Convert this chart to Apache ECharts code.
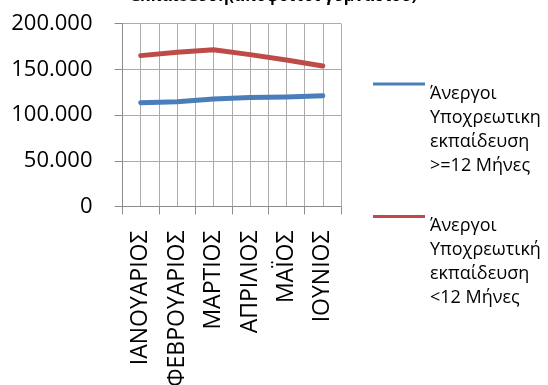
<!DOCTYPE html>
<html>
<head>
<meta charset="utf-8">
<script src="https://cdn.jsdelivr.net/npm/echarts@6/dist/echarts.min.js"></script>
<style>
html,body{margin:0;padding:0;background:#fff;}
#chart{width:548px;height:385px;}
</style>
</head>
<body>
<div id="chart"></div>
<script>
const categories = ['ΙΑΝΟΥΑΡΙΟΣ', 'ΦΕΒΡΟΥΑΡΙΟΣ', 'ΜΑΡΤΙΟΣ', 'ΑΠΡΙΛΙΟΣ', 'ΜΑΪΟΣ', 'ΙΟΥΝΙΟΣ'];
const seriesLongName = 'Άνεργοι\nΥποχρεωτικη\nεκπαίδευση\n>=12 Μήνες';
const seriesShortName = 'Άνεργοι\nΥποχρεωτική\nεκπαίδευση\n<12 Μήνες';
const longTermValues = [113500, 114600, 117500, 119000, 119700, 121100];
const shortTermValues = [164900, 168600, 171400, 166000, 160200, 153600];
const yTickLabels = ['0', '50.000', '100.000', '150.000', '200.000'];
const titleText = 'Άνεργοι Υποχρεωτική\nεκπαίδευση(απόφοιτοι γυμνασίου)';

const FONT = '"Open Sans", "Noto Sans", sans-serif';
const BLUE = '#4A7EBB';
const RED = '#BE4B48';
const GRID_COLOR = '#ABABAB';
const AXIS_COLOR = '#8C8C8C';
const legendIcon = 'path://M0 0 L0 0 M0 1 L52 1 L52 4 L0 4 Z M0 96 L0 96';

const chart = echarts.init(document.getElementById('chart'), null, {renderer: 'canvas'});
chart.setOption({
  animation: false,
  backgroundColor: '#ffffff',
  title: {
    text: titleText,
    left: 'center',
    top: -37,
    padding: 0,
    textStyle: {fontFamily: FONT, fontSize: 16, fontWeight: 'bold', color: '#000', lineHeight: 22}
  },
  grid: {left: 122.5, top: 23.5, width: 218.5, height: 183, containLabel: false, outerBoundsMode: 'none'},
  legend: [
    {
      data: [seriesLongName], left: 373, top: 81.5, padding: 0, orient: 'vertical',
      itemWidth: 52, itemHeight: 96, itemGap: 5, icon: legendIcon,
      itemStyle: {color: BLUE, borderWidth: 0},
      textStyle: {fontFamily: FONT, fontSize: 18, lineHeight: 24, color: '#000'}
    },
    {
      data: [seriesShortName], left: 373, top: 214, padding: 0, orient: 'vertical',
      itemWidth: 52, itemHeight: 96, itemGap: 5, icon: legendIcon,
      itemStyle: {color: RED, borderWidth: 0},
      textStyle: {fontFamily: FONT, fontSize: 18, lineHeight: 24, color: '#000'}
    }
  ],
  xAxis: [
    {
      type: 'value',
      min: 0,
      max: categories.length * 2,
      interval: 1,
      position: 'bottom',
      axisLine: {show: false},
      axisTick: {show: false},
      axisLabel: {show: false},
      splitLine: {show: true, lineStyle: {color: GRID_COLOR, width: 1}}
    },
    {
      type: 'category',
      data: categories,
      boundaryGap: true,
      position: 'bottom',
      axisLine: {show: true, lineStyle: {color: AXIS_COLOR, width: 1}},
      axisTick: {show: true, length: 8, interval: 0, alignWithLabel: false, lineStyle: {color: AXIS_COLOR}},
      splitLine: {show: false},
      axisLabel: {interval: 0, rotate: 90, margin: 24, fontFamily: FONT, fontSize: 23, color: '#000'}
    }
  ],
  yAxis: {
    type: 'value',
    min: 0,
    max: 200000,
    interval: 50000,
    axisLine: {show: true, lineStyle: {color: AXIS_COLOR, width: 1}},
    axisTick: {show: true, length: 8, lineStyle: {color: AXIS_COLOR}},
    splitLine: {show: true, lineStyle: {color: GRID_COLOR, width: 1}},
    axisLabel: {
      margin: 30, fontFamily: FONT, fontSize: 22, color: '#000',
      formatter: function (v) { return yTickLabels[Math.round(v / 50000)]; }
    }
  },
  series: [
    {
      name: seriesLongName, type: 'line', data: longTermValues, xAxisIndex: 1,
      symbol: 'none', smooth: false, z: 3,
      lineStyle: {color: BLUE, width: 5, cap: 'round', join: 'round'},
      itemStyle: {color: BLUE}
    },
    {
      name: seriesShortName, type: 'line', data: shortTermValues, xAxisIndex: 1,
      symbol: 'none', smooth: false, z: 3,
      lineStyle: {color: RED, width: 5, cap: 'round', join: 'round'},
      itemStyle: {color: RED}
    }
  ]
});
</script>
</body>
</html>
